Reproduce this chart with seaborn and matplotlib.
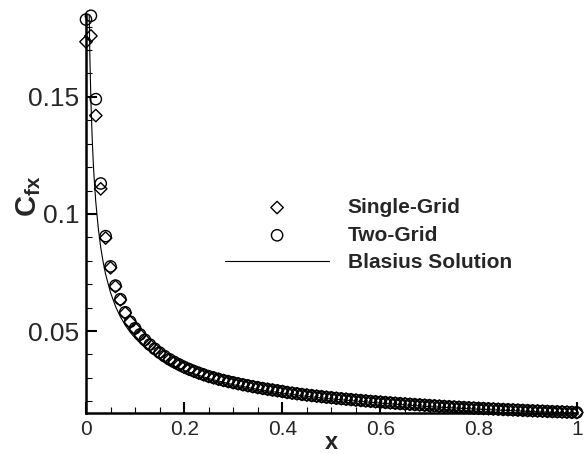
import numpy as np
import matplotlib
matplotlib.use("Agg")
import matplotlib.pyplot as plt
from matplotlib.ticker import MultipleLocator, FixedLocator, FixedFormatter
import seaborn as sns


# grid nodes along the plate, one every 0.01
x_nodes = np.linspace(0.0, 1.0, 101)

single_grid_cf = [
    0.1735, 0.1760, 0.1420, 0.1107, 0.0897, 0.0770, 0.0690, 0.0633, 0.0577, 0.0538,
    0.0510, 0.04835, 0.04607, 0.04406, 0.04226, 0.04064, 0.03916, 0.03781, 0.03665, 0.03556,
    0.03453, 0.03363, 0.03280, 0.03201, 0.03128, 0.03059, 0.02999, 0.02943, 0.02890, 0.02840,
    0.02792, 0.02747, 0.02704, 0.02663, 0.02622, 0.02585, 0.02549, 0.02514, 0.02481, 0.02449,
    0.02418, 0.02377, 0.02348, 0.02321, 0.02294, 0.02268, 0.02244, 0.02220, 0.02197, 0.02174,
    0.02153, 0.02131, 0.02110, 0.02091, 0.02072, 0.02052, 0.02034, 0.02016, 0.01999, 0.01981,
    0.01965, 0.01949, 0.01933, 0.01918, 0.01902, 0.01888, 0.01874, 0.01859, 0.01846, 0.01832,
    0.01819, 0.01806, 0.01794, 0.01781, 0.01769, 0.01757, 0.01746, 0.01734, 0.01723, 0.01713,
    0.01702, 0.01691, 0.01681, 0.01671, 0.01661, 0.01650, 0.01641, 0.01632, 0.01623, 0.01613,
    0.01604, 0.01595, 0.01587, 0.01579, 0.01569, 0.01561, 0.01553, 0.01546, 0.01538, 0.01529,
    0.01522,
]

two_grid_cf = [
    0.1830, 0.1846, 0.1490, 0.1130, 0.0905, 0.0776, 0.0694, 0.0636, 0.0580, 0.0540,
    0.0512, 0.04855, 0.04625, 0.04423, 0.04242, 0.04079, 0.03930, 0.03794, 0.03677, 0.03567,
    0.03463, 0.03372, 0.03288, 0.03209, 0.03135, 0.03066, 0.03005, 0.02949, 0.02895, 0.02845,
    0.02797, 0.02751, 0.02708, 0.02667, 0.02626, 0.02589, 0.02552, 0.02517, 0.02484, 0.02452,
    0.02421, 0.02380, 0.02351, 0.02323, 0.02296, 0.02270, 0.02246, 0.02222, 0.02199, 0.02176,
    0.02155, 0.02133, 0.02112, 0.02093, 0.02074, 0.02054, 0.02036, 0.02018, 0.02001, 0.01983,
    0.01967, 0.01951, 0.01935, 0.01920, 0.01904, 0.01890, 0.01876, 0.01861, 0.01848, 0.01834,
    0.01821, 0.01808, 0.01796, 0.01783, 0.01771, 0.01759, 0.01748, 0.01736, 0.01725, 0.01715,
    0.01704, 0.01693, 0.01683, 0.01673, 0.01663, 0.01652, 0.01643, 0.01634, 0.01625, 0.01615,
    0.01606, 0.01597, 0.01589, 0.01581, 0.01571, 0.01563, 0.01555, 0.01548, 0.01540, 0.01531,
    0.01524,
]

blasius_x = [0.006, 0.008, 0.01, 0.0125, 0.015, 0.0175, 0.02, 0.025, 0.03, 0.035,
             0.04, 0.05, 0.06, 0.07, 0.08, 0.09, 0.10, 0.12, 0.14, 0.16,
             0.18, 0.20, 0.25, 0.30, 0.35, 0.40, 0.45, 0.50, 0.60, 0.70,
             0.80, 0.90, 1.00]
blasius_cf = [0.1917, 0.1660, 0.1485, 0.1328, 0.1212, 0.1122, 0.1050, 0.0939, 0.0857, 0.0794,
              0.0742, 0.0664, 0.0606, 0.0561, 0.0525, 0.0495, 0.0470, 0.0429, 0.0397, 0.0371,
              0.0350, 0.0332, 0.0297, 0.0271, 0.0251, 0.0235, 0.0221, 0.0210, 0.0192, 0.0177,
              0.0166, 0.0157, 0.0148]

x_ticks = [0, 0.2, 0.4, 0.6, 0.8, 1.0]
x_tick_labels = ["0", "0.2", "0.4", "0.6", "0.8", "1"]
y_ticks = [0.05, 0.10, 0.15]
y_tick_labels = ["0.05", "0.1", "0.15"]


sns.set_style("ticks")
plt.rcParams["font.family"] = ["Liberation Sans", "DejaVu Sans"]
plt.rcParams["mathtext.fontset"] = "custom"
plt.rcParams["mathtext.rm"] = "Liberation Sans"
plt.rcParams["mathtext.bf"] = "Liberation Sans:bold"

fig = plt.figure(figsize=(5.85, 4.54), dpi=100)
ax = fig.add_axes([0.147, 0.0903, 0.839, 0.877])

sns.lineplot(x=blasius_x, y=blasius_cf, color="black", linewidth=0.8,
             sort=False, label="Blasius Solution", ax=ax)
sns.scatterplot(x=x_nodes, y=single_grid_cf, marker="D", s=40,
                facecolor="none", edgecolor="black", linewidth=1.0,
                label="Single-Grid", clip_on=False, ax=ax)
sns.scatterplot(x=x_nodes, y=two_grid_cf, marker="o", s=66,
                facecolor="none", edgecolor="black", linewidth=1.0,
                label="Two-Grid", clip_on=False, ax=ax)

ax.set_xlim(0, 1)
ax.set_ylim(0.015, 0.185)

ax.xaxis.set_major_locator(FixedLocator(x_ticks))
ax.xaxis.set_major_formatter(FixedFormatter(x_tick_labels))
ax.xaxis.set_minor_locator(MultipleLocator(0.05))
ax.yaxis.set_major_locator(FixedLocator(y_ticks))
ax.yaxis.set_major_formatter(FixedFormatter(y_tick_labels))
ax.yaxis.set_minor_locator(MultipleLocator(0.01))

ax.tick_params(axis="both", which="major", direction="in", length=8, width=1.5,
               color="black")
ax.tick_params(axis="both", which="minor", direction="in", length=4.5, width=0.8,
               color="black")
ax.tick_params(axis="x", which="major", labelsize=15, pad=5)
ax.tick_params(axis="y", which="major", labelsize=19, pad=5)

sns.despine(ax=ax)
for side in ["left", "bottom"]:
    ax.spines[side].set_linewidth(1.8)
    ax.spines[side].set_color("black")

ax.set_xlabel("x", fontsize=17, fontweight="bold")
ax.xaxis.set_label_coords(0.5, -0.045)
ax.set_ylabel(r"$\mathbf{C_{fx}}$", fontsize=21)
ax.yaxis.set_label_coords(-0.088, 0.545)

handles, labels = ax.get_legend_handles_labels()
order = [labels.index(n) for n in ["Single-Grid", "Two-Grid", "Blasius Solution"]]
ax.legend([handles[i] for i in order], [labels[i] for i in order],
          loc="upper left", bbox_to_anchor=(225 / 585, 1 - 198 / 454),
          bbox_transform=fig.transFigure, frameon=False,
          prop={"weight": "bold", "size": 15}, handlelength=5.0,
          handletextpad=0.9, labelspacing=0.42, borderpad=0, borderaxespad=0)

fig.savefig("out.png", dpi=100)
